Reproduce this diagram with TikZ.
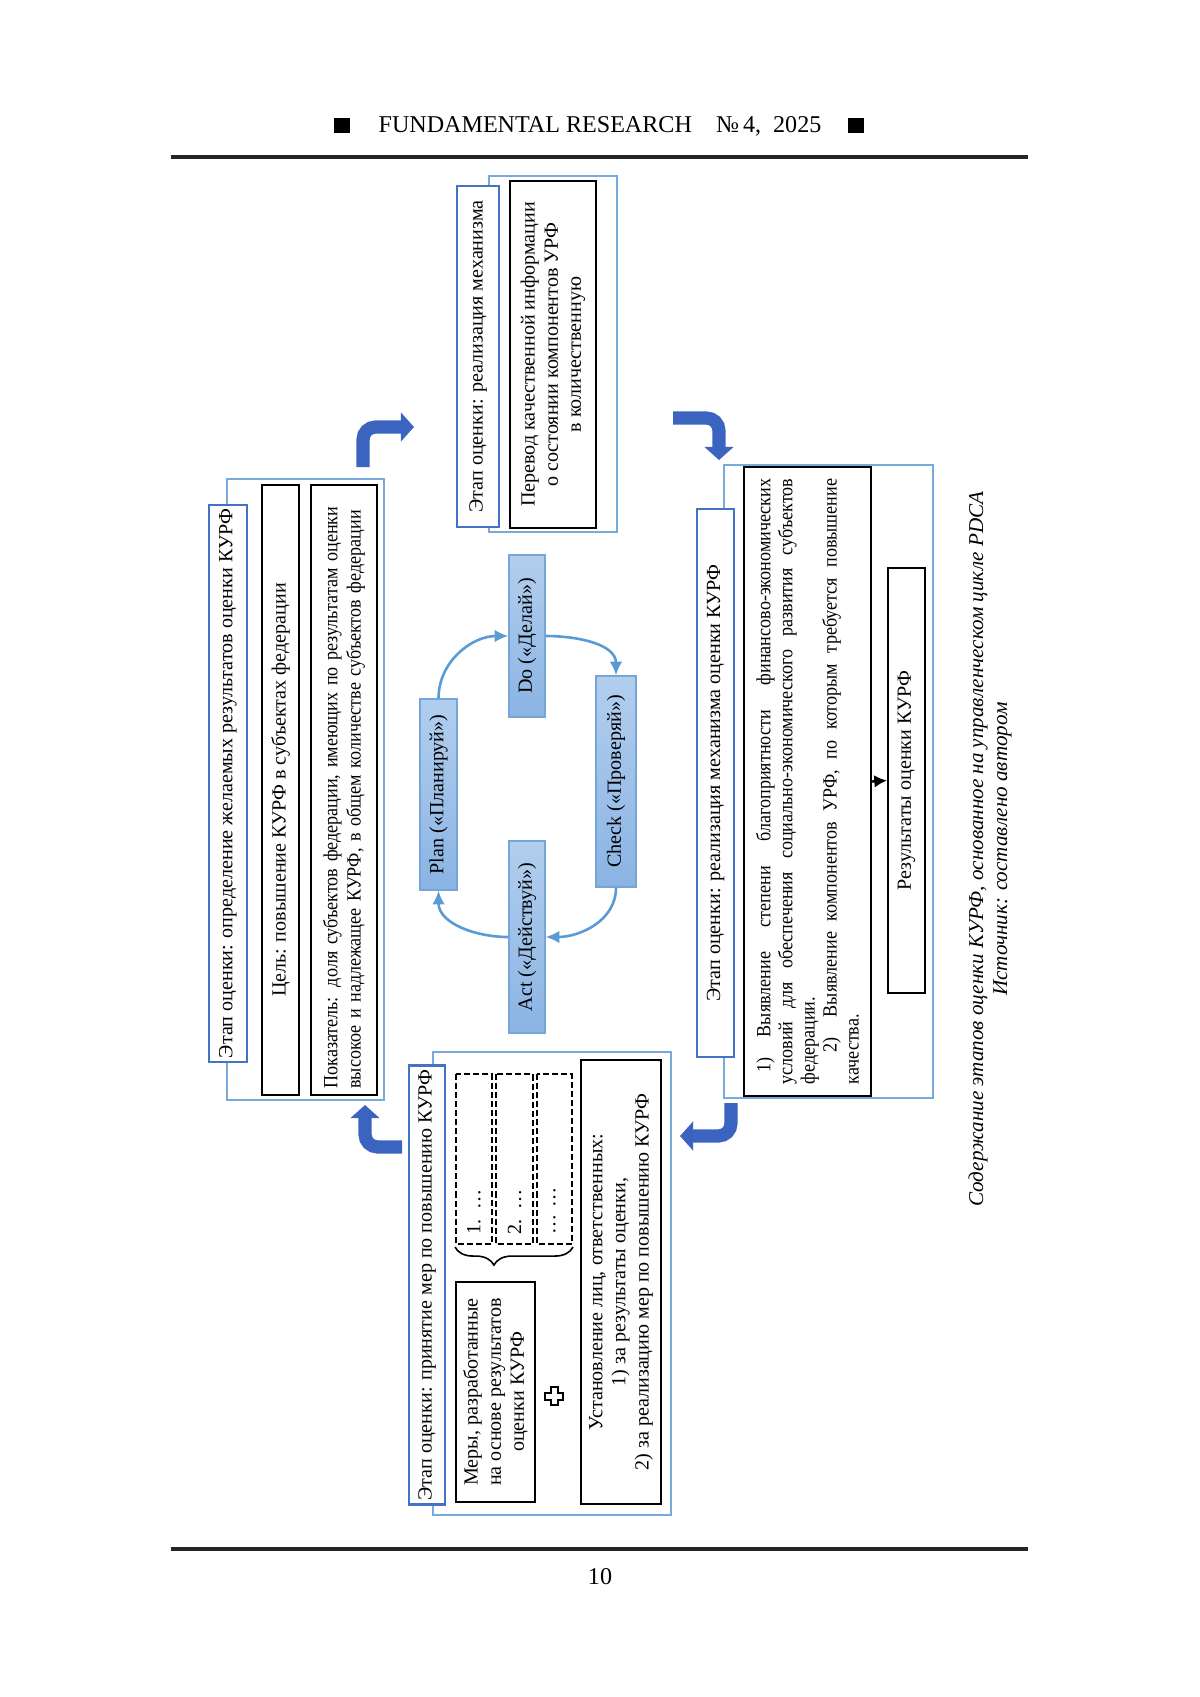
\documentclass[tikz,border=0pt]{standalone}
\usepackage{fontspec}
\setmainfont{Liberation Serif}
\newfontfamily\narrowserif{Liberation Serif}[FakeStretch=0.9]
\usetikzlibrary{arrows.meta,decorations.pathreplacing}

\definecolor{stageblue}{RGB}{120,170,220}
\definecolor{titleblue}{RGB}{68,114,196}
\definecolor{cycleblue}{RGB}{91,155,213}
\definecolor{bentblue}{RGB}{58,100,192}
\definecolor{pdcalight}{RGB}{178,206,238}
\definecolor{pdcadark}{RGB}{138,180,228}
\definecolor{pdcaedge}{RGB}{120,165,215}

\newcommand{\pxu}{0.0175cm}

\tikzset{
    stageframe/.style={draw=stageblue, line width=0.8pt, inner sep=0pt},
    stagetitle/.style={draw=titleblue, line width=1.1pt, fill=white, rotate=90,
      inner sep=2pt, font=\fontsize{10}{12}\selectfont},
    blackbox/.style={draw=black, line width=1.1pt, fill=white, rotate=90,
      inner sep=3pt, font=\fontsize{10}{11.5}\selectfont},
    dashbox/.style={draw=black, line width=1pt, dash pattern=on 3pt off 1.5pt,
      rotate=90, inner sep=3pt, font=\fontsize{10}{12}\selectfont},
    pdca/.style={draw=pdcaedge, line width=0.6pt, top color=pdcalight,
      bottom color=pdcadark, rotate=90, inner sep=2pt, font=\fontsize{10}{12}\selectfont},
    cyclearrow/.style={draw=cycleblue, line width=1.3pt, -{Latex[length=2.4mm, width=2.2mm]}},
    bentarrow/.style={draw=bentblue, line width=2.3mm, rounded corners=0.22cm,
      -{Triangle[length=2.3mm, width=5mm]}}
}

\begin{document}
\begin{tikzpicture}[x=0.0175cm, y=0.0175cm]
  \useasboundingbox (0,0) rectangle (1200,-1697);

  % Running head and foot
  \fill (334,-118) rectangle (350,-133);
  \fill (848,-118) rectangle (864,-133);
  \node[font=\fontsize{12}{14}\selectfont] (head) at (600,-126) {FUNDAMENTAL RESEARCH\quad №\,4,\ \ 2025};
  \draw[line width=1.6pt, black!85] (171,-157) -- (1028,-157);
  \draw[line width=1.6pt, black!85] (171,-1549) -- (1028,-1549);
  \node[font=\fontsize{12}{14}\selectfont] (pagenum) at (600,-1577) {10};

  % Stage 1: desired results
  \node[stageframe, minimum width=157*\pxu, minimum height=621*\pxu] (s1) at (305.5,-789.5) {};
  \node[stagetitle, minimum width=549*\pxu, minimum height=38*\pxu] (t1) at (228,-783.5) {Этап оценки: определение желаемых результатов оценки КУРФ};
  \node[blackbox, minimum width=610*\pxu, minimum height=37*\pxu] (goal) at (280.5,-790) {Цель: повышение КУРФ в субъектах федерации};
  \node[blackbox, minimum width=610*\pxu, minimum height=66*\pxu, text width=10.45cm, align=left,
    font=\narrowserif\fontsize{10}{11.5}\selectfont] (ind) at (344,-790)
    {Показатель: доля субъектов федерации, имеющих по результатам оценки\\высокое и надлежащее КУРФ, в общем количестве субъектов федерации};

  % Stage 2: conversion
  \node[stageframe, minimum width=128*\pxu, minimum height=356*\pxu] (s2) at (553,-354) {};
  \node[stagetitle, minimum width=341*\pxu, minimum height=42*\pxu] (t2) at (478,-356.5) {Этап оценки: реализация механизма};
  \node[blackbox, minimum width=347*\pxu, minimum height=86*\pxu, align=center] (conv) at (553,-354.5)
    {Перевод качественной информации\\о состоянии компонентов УРФ\\в количественную};

  % Stage 3: mechanism
  \node[stageframe, minimum width=209*\pxu, minimum height=633*\pxu] (s3) at (828.5,-781.5) {};
  \node[stagetitle, minimum width=548*\pxu, minimum height=37*\pxu] (t3) at (715.5,-783) {Этап оценки: реализация механизма оценки КУРФ};
  \node[blackbox, minimum width=629*\pxu, minimum height=127*\pxu, text width=10.6cm, align=justify,
    font=\narrowserif\fontsize{10}{11}\selectfont] (det) at (807.5,-781.5)
    {\hspace*{0.6em}1)\quad Выявление степени благоприятности финансово-экономических\linebreak
     условий для обеспечения социально-экономического развития субъектов\linebreak
     федерации.\\
     \hspace*{1.6em}2)\quad Выявление компонентов УРФ, по которым требуется повышение\linebreak
     качества.};
  \node[blackbox, minimum width=425*\pxu, minimum height=37*\pxu] (res) at (906.5,-780.5) {Результаты оценки КУРФ};
  \draw[line width=1.2pt, -{Latex[length=2.2mm, width=2.2mm]}] (det.south) -- (res.north);

  % Stage 4: measures
  \node[stageframe, minimum width=238*\pxu, minimum height=463*\pxu] (s4) at (552,-1283.5) {};
  \node[stagetitle, minimum width=438*\pxu, minimum height=36*\pxu] (t4) at (427,-1285) {Этап оценки: принятие мер по повышению КУРФ};
  \node[dashbox, minimum width=170*\pxu, minimum height=36*\pxu, text width=2.65cm, align=left] (m1) at (474,-1159) {1. …};
  \node[dashbox, minimum width=170*\pxu, minimum height=37*\pxu, text width=2.65cm, align=left] (m2) at (514.5,-1159) {2. …};
  \node[dashbox, minimum width=170*\pxu, minimum height=35*\pxu, text width=2.65cm, align=left] (m3) at (554.5,-1159) {… …};
  \draw[line width=0.8pt, decorate, decoration={brace, amplitude=9pt, aspect=0.67}]
    ([yshift=-1pt]m3.south west) -- ([yshift=-1pt]m1.north west);
  \node[blackbox, minimum width=220*\pxu, minimum height=79*\pxu, align=center] (meas) at (495.5,-1392)
    {Меры, разработанные\\на основе результатов\\оценки КУРФ};
  \coordinate (plus) at (554,-1396);
  \draw[line width=1pt, fill=white, shift={(plus)}]
    (-3.5,9) -- (3.5,9) -- (3.5,3.5) -- (9,3.5) -- (9,-3.5) -- (3.5,-3.5) -- (3.5,-9)
    -- (-3.5,-9) -- (-3.5,-3.5) -- (-9,-3.5) -- (-9,3.5) -- (-3.5,3.5) -- cycle;
  \node[blackbox, minimum width=444*\pxu, minimum height=80*\pxu, align=center] (resp) at (621,-1282)
    {Установление лиц, ответственных:\\1) за результаты оценки,\\2) за реализацию мер по повышению КУРФ};

  % PDCA cycle
  \node[pdca, minimum width=191*\pxu, minimum height=37*\pxu] (plan) at (438.5,-794.5) {Plan («Планируй»)};
  \node[pdca, minimum width=162*\pxu, minimum height=36*\pxu] (do) at (527,-636) {Do («Делай»)};
  \node[pdca, minimum width=211*\pxu, minimum height=40*\pxu] (check) at (616,-781.5) {Check («Проверяй»)};
  \node[pdca, minimum width=192*\pxu, minimum height=36*\pxu] (act) at (527,-937) {Act («Действуй»)};
  \draw[cyclearrow] (plan.east) to[out=90, in=180] (do.north);
  \draw[cyclearrow] (do.south) to[out=0, in=90] (check.east);
  \draw[cyclearrow] (check.west) to[out=-90, in=0] (act.south);
  \draw[cyclearrow] (act.north) to[out=180, in=-90] (plan.west);

  % Transitions between stages
  \coordinate (b1s) at (363,-467);
  \coordinate (b1e) at (414,-427);
  \coordinate (b2s) at (673,-418);
  \coordinate (b2e) at (719,-460);
  \coordinate (b3s) at (731,-1103);
  \coordinate (b3e) at (680,-1136);
  \coordinate (b4s) at (402,-1147);
  \coordinate (b4e) at (365,-1105);
  \draw[bentarrow] (b1s) |- (b1e);
  \draw[bentarrow] (b2s) -| (b2e);
  \draw[bentarrow] (b3s) |- (b3e);
  \draw[bentarrow] (b4s) -| (b4e);

  % Caption
  \node[rotate=90, align=center, font=\itshape\fontsize{10.5}{12}\selectfont] (cap) at (990,-849)
    {Содержание этапов оценки КУРФ, основанное на управленческом цикле PDCA\\Источник: составлено автором};
\end{tikzpicture}
\end{document}
